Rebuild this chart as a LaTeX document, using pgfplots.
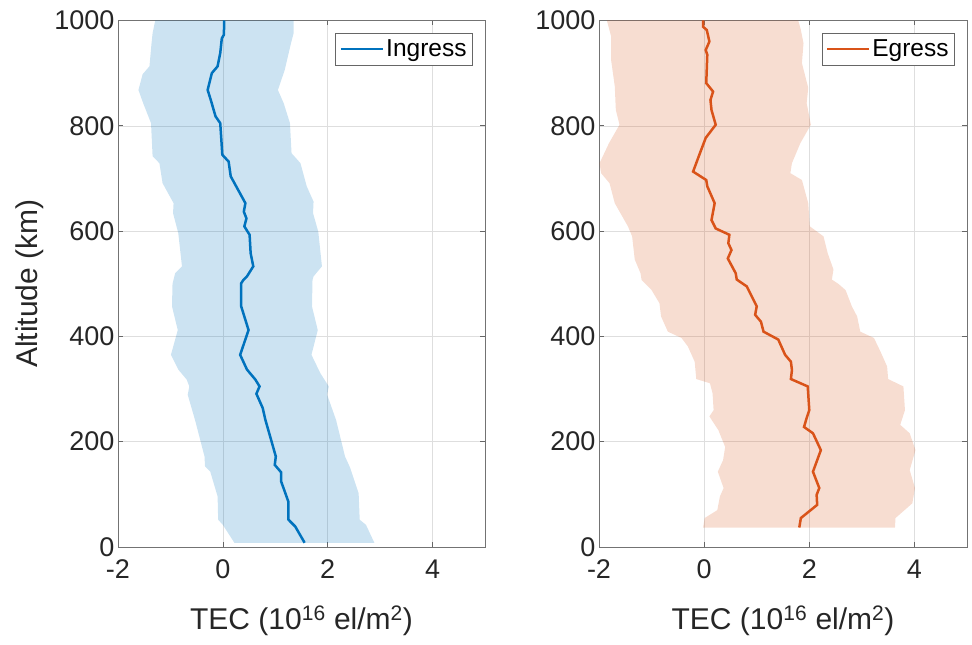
\documentclass[border=0pt]{standalone}
\usepackage{fontspec}
\setmainfont{Liberation Sans}
\usepackage{pgfplots}
\pgfplotsset{compat=1.18}
\definecolor{mblue}{HTML}{0072BD}
\definecolor{morange}{HTML}{D95319}
\definecolor{tickgray}{HTML}{262626}

\pgfplotsset{
  tecstyle/.style={
    scale only axis, width=367pt, height=526.5pt,
    anchor=south west,
    xmin=-2, xmax=5, ymin=0, ymax=1000,
    xtick={-2,0,2,4}, ytick={0,200,...,1000},
    grid=major, major grid style={draw=black!13, line width=0.5pt},
    tick align=inside, major tick length=5pt,
    tick style={draw=black!60, line width=0.6pt},
    axis line style={draw=black!55, line width=0.8pt},
    /pgf/number format/assume math mode=true,
    /pgf/number format/1000 sep={},
    ticklabel style={font=\fontsize{27}{32}\selectfont, text=tickgray},
    xticklabel style={yshift=-9pt},
    xlabel={TEC (10\textsuperscript{16} el/m\textsuperscript{2})},
    label style={font=\fontsize{30}{36}\selectfont, text=tickgray},
    xlabel style={at={(axis description cs:0.5,-0.1576)}, anchor=base},
    legend style={at={(axis description cs:0.967,0.977)}, anchor=north east,
      font=\fontsize{24.5}{28}\selectfont, draw=black!60, line width=0.6pt,
      inner xsep=4pt, inner ysep=5pt, cells={anchor=west}},
    legend image code/.code={\draw[#1] (0pt,0pt) -- (42pt,0pt);},
  }
}

\begin{document}
\begin{tikzpicture}
\path[use as bounding box] (0,0) rectangle (972pt,645pt);

% ingress
\begin{axis}[tecstyle, at={(118pt,98pt)},
  ylabel={Altitude (km)},
  ylabel style={at={(axis description cs:-0.2207,0.5)}, anchor=base}]
\addplot[fill=mblue, fill opacity=0.2, draw=none, forget plot] coordinates {
  (-1.29,1000) (-1.34,976) (-1.36,957) (-1.40,913) (-1.53,898) (-1.61,868)
  (-1.52,843) (-1.37,805) (-1.34,742) (-1.21,729) (-1.15,691) (-0.94,653)
  (-0.95,634) (-0.85,596) (-0.78,533) (-0.91,520) (-0.96,500) (-0.97,457)
  (-0.86,412) (-0.99,365) (-0.85,337) (-0.69,318) (-0.64,305) (-0.67,289)
  (-0.53,241) (-0.35,172) (-0.34,153) (-0.24,143) (-0.10,96) (-0.09,52)
  (0.00,42) (0.22,8)
  (2.89,8) (2.73,42) (2.61,52) (2.59,102) (2.43,150) (2.33,172) (2.16,241)
  (1.99,289) (2.02,305) (1.86,330) (1.69,365) (1.81,412) (1.70,457)
  (1.71,507) (1.73,514) (1.89,533) (1.82,599) (1.72,634) (1.73,656)
  (1.60,685) (1.48,729) (1.31,748) (1.28,805) (1.16,843) (1.05,868)
  (1.18,906) (1.30,957) (1.35,976) (1.35,1000)
} -- cycle;
\addplot[mblue, line width=2.5pt] coordinates {
  (0.025,1000) (0.02,973) (-0.02,966) (-0.05,938) (-0.10,913) (-0.21,900)
  (-0.29,868) (-0.23,849) (-0.14,818) (-0.05,805) (-0.01,745) (0.11,732)
  (0.15,704) (0.43,653) (0.40,637) (0.45,624) (0.41,609) (0.51,593)
  (0.53,558) (0.58,533) (0.46,514) (0.39,507) (0.35,501) (0.35,457)
  (0.49,412) (0.33,365) (0.46,337) (0.62,318) (0.70,305) (0.64,291)
  (0.76,264) (0.81,242) (1.01,172) (0.99,156) (1.11,142) (1.11,125)
  (1.25,86) (1.25,52) (1.38,39) (1.56,8)
};
\legend{Ingress}
\end{axis}

% egress
\begin{axis}[tecstyle, at={(599pt,98pt)}, width=368pt]
\addplot[fill=morange, fill opacity=0.2, draw=none, forget plot] coordinates {
  (-1.85,1000) (-1.77,970) (-1.77,925) (-1.70,875) (-1.68,830) (-1.61,802)
  (-1.81,767) (-1.99,729) (-1.96,710) (-1.80,691) (-1.70,653) (-1.45,609)
  (-1.37,590) (-1.32,546) (-1.21,520) (-1.19,507) (-1.00,488) (-0.85,463)
  (-0.82,438) (-0.69,409) (-0.43,397) (-0.31,381) (-0.18,352) (-0.15,319)
  (0.11,311) (0.16,292) (0.18,260) (0.10,248) (0.27,222) (0.40,190)
  (0.36,165) (0.26,143) (0.37,112) (0.30,96) (0.25,70) (0.01,55) (-0.02,37)
  (3.63,37) (3.64,55) (3.96,83) (4.01,112) (3.91,146) (4.02,184) (3.91,216)
  (3.73,232) (3.82,260) (3.79,305) (3.50,319) (3.48,343) (3.35,372)
  (3.23,397) (2.97,409) (2.91,438) (2.81,457) (2.69,488) (2.55,500)
  (2.43,508) (2.46,527) (2.35,558) (2.27,590) (2.01,609) (1.98,653)
  (1.86,697) (1.64,710) (1.67,729) (1.83,767) (2.03,802) (1.95,843)
  (1.98,872) (1.86,919) (1.89,957) (1.84,982) (1.79,1000)
} -- cycle;
\addplot[morange, line width=2.5pt] coordinates {
  (-0.02,1000) (-0.02,988) (0.05,982) (0.10,960) (0.03,944) (0.06,935)
  (0.04,881) (0.17,865) (0.12,849) (0.14,830) (0.22,802) (0.03,777)
  (-0.08,748) (-0.21,713) (0.04,697) (0.06,685) (0.20,653) (0.14,621)
  (0.22,605) (0.48,593) (0.46,577) (0.52,564) (0.45,548) (0.60,520)
  (0.62,508) (0.81,495) (1.00,457) (0.97,441) (1.08,428) (1.13,409)
  (1.41,394) (1.54,365) (1.65,352) (1.67,336) (1.65,319) (1.97,305)
  (2.00,260) (1.95,245) (1.90,228) (2.07,216) (2.22,184) (2.07,143)
  (2.19,112) (2.14,99) (2.15,80) (1.84,55) (1.81,37)
};
\legend{Egress}
\end{axis}
\end{tikzpicture}
\end{document}
